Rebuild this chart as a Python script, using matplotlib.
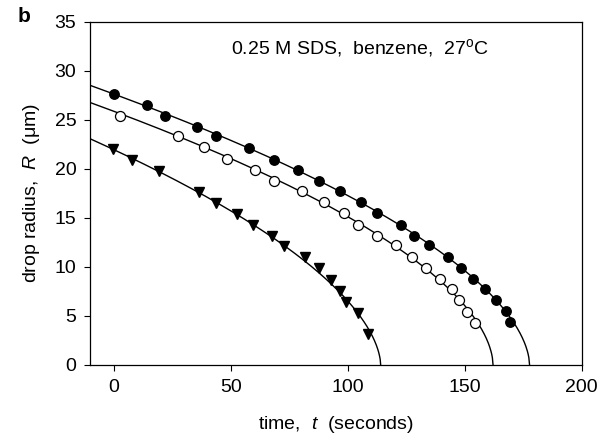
import numpy as np
import matplotlib
matplotlib.use('Agg')
import matplotlib.pyplot as plt

plt.rcParams['font.family'] = ['Liberation Sans', 'DejaVu Sans']
plt.rcParams['mathtext.fontset'] = 'custom'
plt.rcParams['mathtext.rm'] = 'Liberation Sans'
plt.rcParams['mathtext.it'] = 'Liberation Sans:italic'

# measured drop radii (filled circles)
t_filled = [0, 14.1, 22.0, 35.8, 43.7, 57.9, 68.6, 78.9, 87.7, 96.7, 105.6,
            112.6, 122.8, 128.5, 134.7, 142.7, 148.5, 153.6, 158.7, 163.5,
            167.6, 169.5]
R_filled = [27.65, 26.5, 25.4, 24.3, 23.3, 22.1, 20.9, 19.9, 18.8, 17.7, 16.6,
            15.5, 14.3, 13.2, 12.2, 11.0, 9.9, 8.8, 7.7, 6.6, 5.5, 4.4]

# open circles
t_open = [2.7, 27.7, 38.6, 48.6, 60.6, 68.6, 80.7, 89.7, 98.6, 104.6, 112.6,
          120.5, 127.5, 133.5, 139.5, 144.5, 147.6, 150.8, 154.6]
R_open = [25.4, 23.3, 22.2, 21.0, 19.9, 18.8, 17.7, 16.6, 15.5, 14.3, 13.2,
          12.2, 11.0, 9.9, 8.8, 7.7, 6.65, 5.4, 4.3]

# triangles
t_tri = [-0.4, 7.8, 19.4, 36.5, 43.7, 52.6, 59.6, 67.5, 72.8, 81.8, 87.6,
         92.8, 96.8, 99.5, 104.6, 108.7]
R_tri = [22.0, 20.9, 19.8, 17.6, 16.5, 15.4, 14.3, 13.2, 12.1, 11.0, 9.9,
         8.7, 7.5, 6.4, 5.3, 3.2]

# fitted curves R = A * (t0 - t)^n
fit_filled = (177.7, 1.458, 0.568)
fit_open = (162.1, 1.498, 0.56)
fit_tri = (114.1, 1.408, 0.58)


def fit_curve(params):
    t0, A, n = params
    t = np.linspace(-10, t0, 600)
    return t, A * np.clip(t0 - t, 0, None) ** n


fig = plt.figure(figsize=(6.01, 4.45), dpi=100)
ax = fig.add_axes([0.150, 0.180, 0.818, 0.771])

for params in (fit_filled, fit_open, fit_tri):
    tt, rr = fit_curve(params)
    ax.plot(tt, rr, color='black', lw=1.0, zorder=2)

ax.plot(t_filled, R_filled, 'o', color='black', ms=6.8, zorder=3)
ax.plot(t_open, R_open, 'o', mfc='white', mec='black', mew=0.9, ms=7.2, zorder=3)
ax.plot(t_tri, R_tri, 'v', color='black', ms=6.5, zorder=3)

ax.set_xlim(-10, 200)
ax.set_ylim(0, 35)
ax.set_xticks([0, 50, 100, 150, 200])
ax.set_yticks([0, 5, 10, 15, 20, 25, 30, 35])
ax.tick_params(direction='out', length=4, width=0.8, labelsize=14, pad=6)
for s in ax.spines.values():
    s.set_linewidth(0.9)

ax.set_xlabel(r'time,  $t$  (seconds)', fontsize=14, labelpad=13)
ax.set_ylabel(r'drop radius,  $R$  ($\mathrm{\mu}$m)', fontsize=14, labelpad=9)

ax.text(50, 32.3, r'0.25 M SDS,  benzene,  27$^{\mathrm{o}}$C', fontsize=14,
        ha='left', va='center')
fig.text(0.03, 0.962, 'b', fontsize=15, fontweight='bold', ha='left', va='center')

fig.savefig('out.png', dpi=100)
